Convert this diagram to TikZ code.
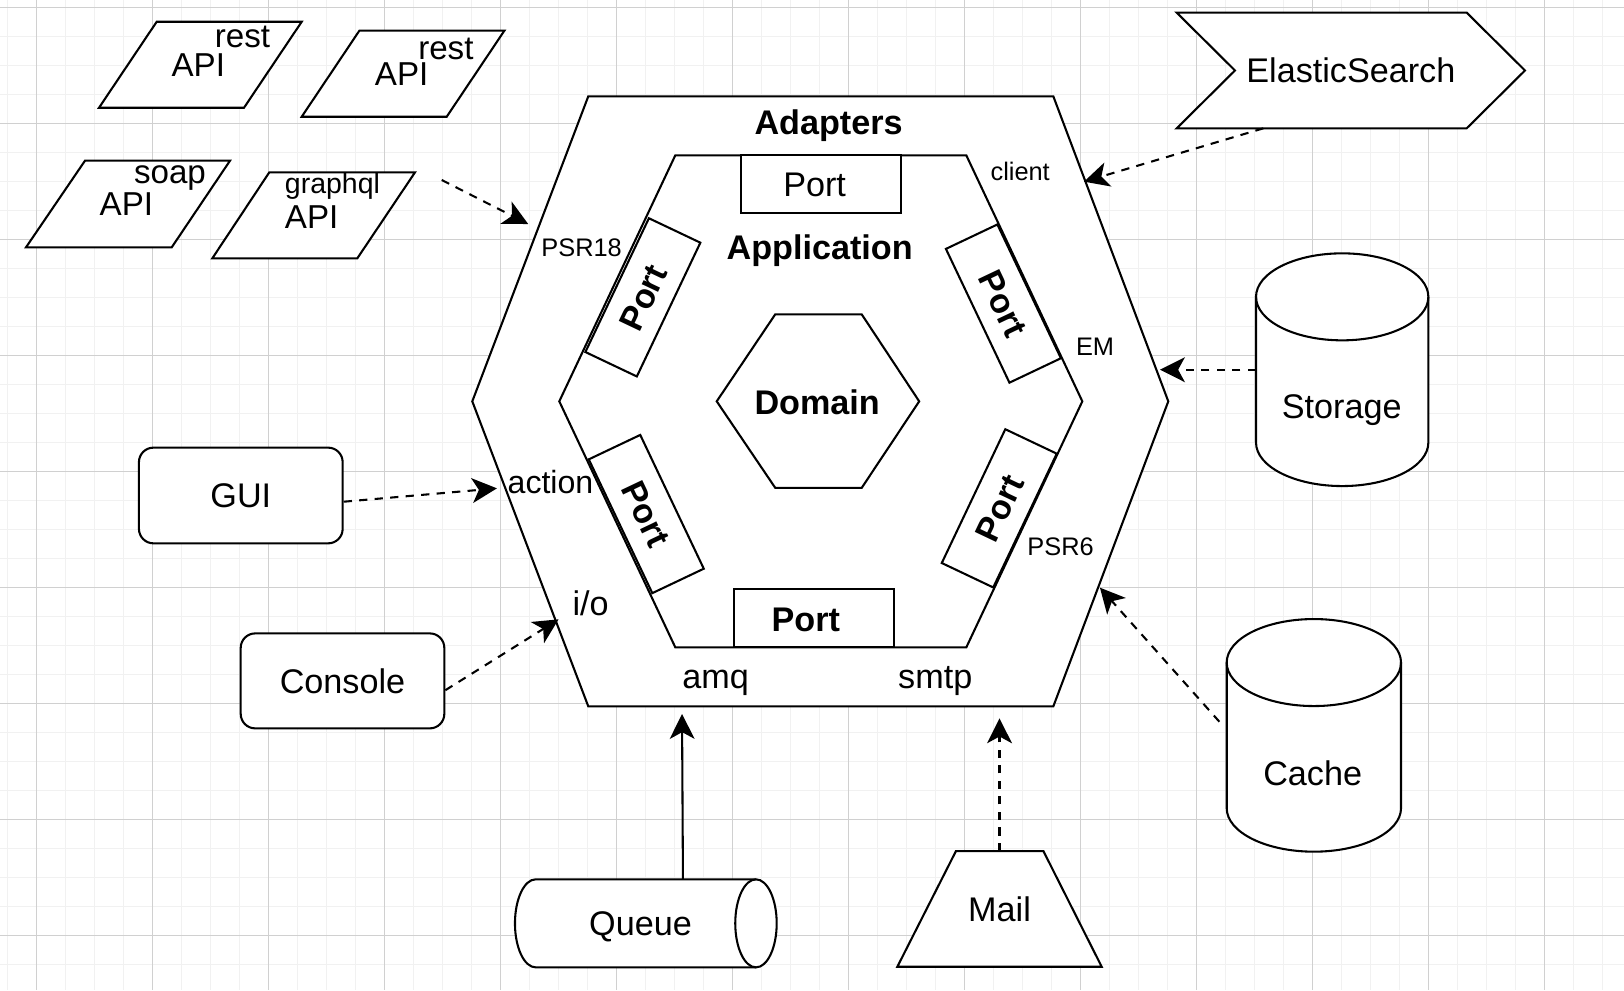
\documentclass[tikz,border=0pt]{standalone}
\usepackage{fontspec}
\setmainfont{Liberation Sans}
\usetikzlibrary{arrows.meta,calc}
\definecolor{gmaj}{RGB}{208,208,208}
\definecolor{gmin}{RGB}{241,241,241}
\begin{document}
\begin{tikzpicture}[x=1pt,y=-1pt,
  shp/.style={draw=black,line width=2pt,fill=white},
  fbig/.style={font=\fontsize{33}{40}\selectfont},
  fbigb/.style={font=\fontsize{33}{40}\selectfont\bfseries},
  fapi/.style={font=\fontsize{32}{38}\selectfont},
  fsml/.style={font=\fontsize{24.5}{30}\selectfont},
  fgql/.style={font=\fontsize{27.5}{33}\selectfont},
  lbl/.style={inner sep=0pt,anchor=base},
  capc/.style={inner sep=0pt,text height=23.6pt,text depth=0pt},
  box/.style={inner sep=0pt,outer sep=0pt},
  conn/.style={line width=2pt,-{Stealth[length=24pt,width=24pt,inset=6.5pt]}},
  dsh/.style={conn,dash pattern=on 8pt off 7pt},
]
\fill[white] (0,0) rectangle (1568,956);
\useasboundingbox (0,0) rectangle (1568,956);
% grid
\foreach \i in {0,...,55} \draw[gmin,line width=1pt] ({7.24+28*\i},0) -- ({7.24+28*\i},956);
\foreach \j in {0,...,33} \draw[gmin,line width=1pt] (0,{7.05+28*\j}) -- (1568,{7.05+28*\j});
\foreach \i in {0,...,13} \draw[gmaj,line width=1pt] ({35.24+112*\i},0) -- ({35.24+112*\i},956);
\foreach \j in {0,...,8} \draw[gmaj,line width=1pt] (0,{7.05+112*\j}) -- (1568,{7.05+112*\j});

% hexagon vertices
\coordinate (o1) at (568,93);   \coordinate (o2) at (1017,93);
\coordinate (o3) at (1128,387.5); \coordinate (o4) at (1017,682);
\coordinate (o5) at (568,682);  \coordinate (o6) at (456,387.5);
\coordinate (i1) at (652,150);  \coordinate (i2) at (933,150);
\coordinate (i3) at (1045,387.5); \coordinate (i4) at (933,625);
\coordinate (i5) at (652,625);  \coordinate (i6) at (540,387.5);
\coordinate (d1) at (748.5,303.5); \coordinate (d2) at (832,303.5);
\coordinate (d3) at (887.5,387.5); \coordinate (d4) at (832,471);
\coordinate (d5) at (748.5,471); \coordinate (d6) at (692,387.5);

\draw[shp] (o1)--(o2)--(o3)--(o4)--(o5)--(o6)--cycle;
\draw[shp] (i1)--(i2)--(i3)--(i4)--(i5)--(i6)--cycle;
\draw[shp] (d1)--(d2)--(d3)--(d4)--(d5)--(d6)--cycle;

% ports
\node[shp,box,minimum width=154pt,minimum height=56pt] (ptop) at (792.7,177.9) {};
\node[capc,fbig] (ptoplbl) at (786.5,177.9) {Port};
\node[shp,box,minimum width=155pt,minimum height=56pt] (pbot) at (785.8,597) {};
\node[capc,fbigb] (pbotlbl) at (778,597.5) {Port};
\node[shp,capc,fbigb,minimum width=143pt,minimum height=55pt,rotate=64.6] (pul) at (620.7,287.1) {Port};
\node[shp,capc,fbigb,minimum width=143pt,minimum height=55pt,rotate=-64.6] (pur) at (968.8,293.1) {Port};
\node[shp,capc,fbigb,minimum width=143pt,minimum height=55pt,rotate=-64.6] (pll) at (624,496.3) {Port};
\node[shp,capc,fbigb,minimum width=143pt,minimum height=55pt,rotate=64.6] (plr) at (964.8,490.8) {Port};

% hexagon labels
\node[lbl,fbigb] (adapters) at (800,130.3) {Adapters};
\node[lbl,fbigb] (application) at (791.4,251) {Application};
\node[capc,fbigb] (domain) at (789,388) {Domain};
\node[lbl,fsml] (client) at (985,174.4) {client};
\node[lbl,fsml] (psr18) at (561.6,247.8) {PSR18};
\node[lbl,fsml] (em) at (1057.3,342.8) {EM};
\node[lbl,fsml] (psr6) at (1024,536.5) {PSR6};
\node[lbl,font=\fontsize{31}{37}\selectfont] (action) at (531.5,476) {action};
\node[lbl,fbig] (io) at (570.3,594) {i/o};
\node[lbl,fbig] (amq) at (691,664.5) {amq};
\node[lbl,fbig] (smtp) at (903,664.5) {smtp};

% API parallelograms
\draw[shp] (151.3,21) -- (291.3,21) -- (235.6,104) -- (95.6,104) -- cycle;
\draw[shp] (347,29.6) -- (487,29.6) -- (431.3,112.7) -- (291.3,112.7) -- cycle;
\draw[shp] (82.1,155.1) -- (222.1,155.1) -- (165.8,238.8) -- (25.1,238.8) -- cycle;
\draw[shp] (260,166.4) -- (400.7,166.4) -- (345,249.4) -- (205,249.4) -- cycle;
\node[lbl,fapi] (api1) at (191.5,73.4) {API};
\node[lbl,fapi] (rest1) at (234.1,45.7) {rest};
\node[lbl,fapi] (api2) at (387.8,83) {API};
\node[lbl,fapi] (rest2) at (430.5,57.9) {rest};
\node[lbl,fapi] (api3) at (122,207.6) {API};
\node[lbl,fapi] (soap) at (164.1,177) {soap};
\node[lbl,fapi] (api4) at (300.9,220.5) {API};
\node[lbl,fgql] (graphql) at (321,186.7) {graphql};

% ElasticSearch
\draw[shp] (1136.1,12.2) -- (1416.1,12.2) -- (1472.4,68.05) -- (1416.1,123.9) -- (1136.1,123.9) -- (1192.4,68.05) -- cycle;
\node[box,capc,fbig,minimum width=336.3pt,minimum height=111.7pt] (elastic) at (1304.25,68.05) {ElasticSearch};

% Storage
\draw[shp] (1212.7,286.6) -- (1212.7,427.3) arc[start angle=180,end angle=360,x radius=83.2pt,y radius=42pt] -- (1379.1,286.6) arc[start angle=0,end angle=180,x radius=83.2pt,y radius=42pt] -- cycle;
\draw[line width=2pt] (1212.7,286.6) arc[start angle=180,end angle=360,x radius=83.2pt,y radius=42pt];
\node[box,minimum width=166.4pt,minimum height=224.7pt] (storage) at (1295.9,356.95) {};
\node[capc,fbig] (storagelbl) at (1295.4,392) {Storage};

% Cache
\draw[shp] (1184.4,639.7) -- (1184.4,780.3) arc[start angle=180,end angle=360,x radius=84.15pt,y radius=42pt] -- (1352.7,639.7) arc[start angle=0,end angle=180,x radius=84.15pt,y radius=42pt] -- cycle;
\draw[line width=2pt] (1184.4,639.7) arc[start angle=180,end angle=360,x radius=84.15pt,y radius=42pt];
\node[box,minimum width=168.3pt,minimum height=224.6pt] (cache) at (1268.55,710) {};
\node[capc,fbig] (cachelbl) at (1267.4,746.7) {Cache};

% Queue
\draw[shp] (517.2,849) -- (729.9,849) arc[start angle=90,end angle=-90,x radius=20pt,y radius=42.5pt] -- (517.2,934) arc[start angle=270,end angle=90,x radius=20pt,y radius=42.5pt] -- cycle;
\draw[line width=2pt] (729.9,849) arc[start angle=90,end angle=270,x radius=20pt,y radius=42.5pt];
\node[box,minimum width=252.7pt,minimum height=85pt] (queue) at (623.55,891.5) {};
\node[capc,fbig] (queuelbl) at (618.4,891.5) {Queue};

% Mail
\draw[shp] (923,821.7) -- (1007.4,821.7) -- (1063.7,933.4) -- (866.4,933.4) -- cycle;
\node[box,capc,fbig,minimum width=197.3pt,minimum height=111.7pt] (mail) at (965.05,877.55) {Mail};

% GUI, Console
\node[shp,capc,fbig,rounded corners=14pt,minimum width=196.7pt,minimum height=92.4pt] (gui) at (232.5,478.4) {GUI};
\node[shp,capc,fbig,rounded corners=14pt,minimum width=196.6pt,minimum height=91.7pt] (console) at (330.7,657.4) {Console};

% connector ends
\coordinate (apiout) at (426.5,173.8);
\coordinate (cacheout) at (1177.3,696.8);
\coordinate (tpsr) at (510,216.3);
\coordinate (tclient) at (1046.6,175.4);
\coordinate (tem) at (1120,356.95);
\coordinate (tpsr6) at (1062,567.4);
\coordinate (taction) at (479.8,471.5);
\coordinate (tio) at (539.3,598);
\coordinate (tamq) at (658.5,689.4);
\coordinate (tsmtp) at (965.05,693.6);

% connectors
\draw[dsh] (apiout) -- (tpsr);
\draw[dsh] ([xshift=-84.5pt]elastic.south) -- (tclient);
\draw[dsh] (storage.west) -- (tem);
\draw[dsh] (cacheout) -- (tpsr6);
\draw[dsh] ([yshift=-6pt]gui.east) -- (taction);
\draw[dsh] ([yshift=-9pt]console.east) -- (tio);
\draw[conn] ([xshift=35.85pt]queue.north) -- (tamq);
\draw[dsh] (mail.north) -- (tsmtp);
\end{tikzpicture}
\end{document}
